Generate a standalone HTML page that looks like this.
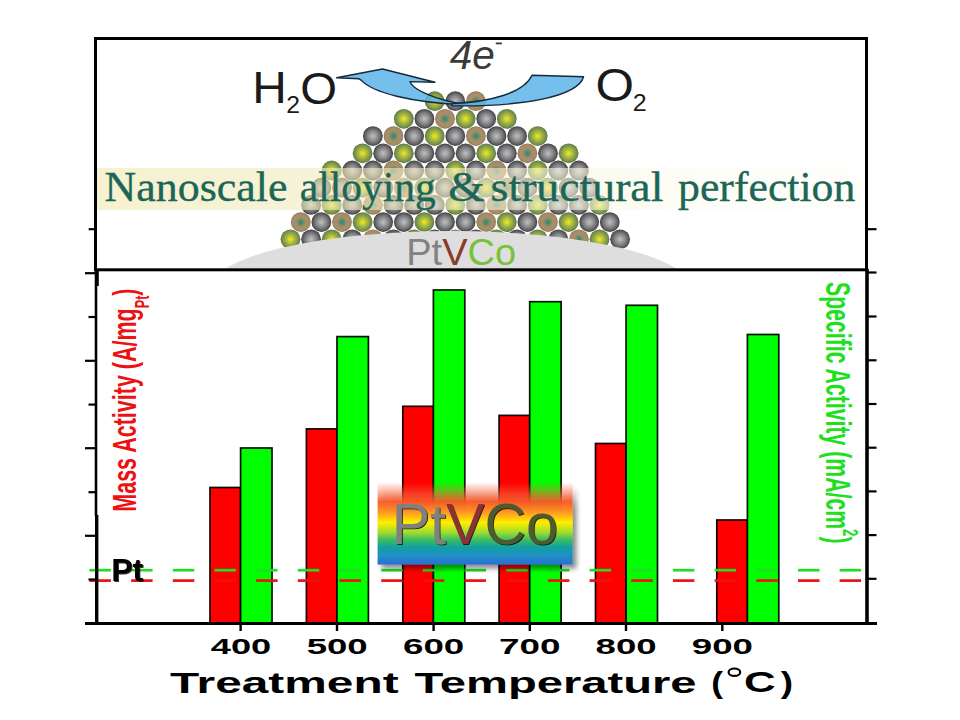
<!DOCTYPE html>
<html><head><meta charset="utf-8"><style>
html,body{margin:0;padding:0;background:#fff;}
svg{display:block;}
</style></head><body>
<svg width="960" height="720" viewBox="0 0 960 720" font-family="Liberation Sans, sans-serif">
<defs>
<radialGradient id="sP" cx="50%" cy="50%" r="50%">
 <stop offset="0" stop-color="#c0c0c4"/><stop offset="0.3" stop-color="#a0a0a2"/><stop offset="0.6" stop-color="#7e7e80"/><stop offset="0.84" stop-color="#5c5c5e"/><stop offset="1" stop-color="#3e3e40"/>
</radialGradient>
<radialGradient id="sG" cx="50%" cy="50%" r="50%">
 <stop offset="0" stop-color="#eeee10"/><stop offset="0.15" stop-color="#dcdc22"/><stop offset="0.4" stop-color="#b0bc40"/><stop offset="0.65" stop-color="#8ca24a"/><stop offset="0.85" stop-color="#728e48"/><stop offset="1" stop-color="#5c7644"/>
</radialGradient>
<radialGradient id="sT" cx="50%" cy="50%" r="50%">
 <stop offset="0" stop-color="#2a8a72"/><stop offset="0.15" stop-color="#4a8a72"/><stop offset="0.38" stop-color="#8c8c68"/><stop offset="0.6" stop-color="#a89068"/><stop offset="0.85" stop-color="#a48a66"/><stop offset="1" stop-color="#8c7456"/>
</radialGradient>
<linearGradient id="band" x1="0" y1="0" x2="1" y2="0">
 <stop offset="0" stop-color="#f1e9b6" stop-opacity="0.64"/><stop offset="0.35" stop-color="#f2ebc0" stop-opacity="0.6"/><stop offset="0.6" stop-color="#f8f5dc" stop-opacity="0.6"/><stop offset="0.75" stop-color="#fcfbef" stop-opacity="0.6"/><stop offset="1" stop-color="#fdfdf7" stop-opacity="0.5"/>
</linearGradient>
<linearGradient id="rainbow" x1="0" y1="0" x2="0" y2="1">
 <stop offset="0" stop-color="#ff5a3c" stop-opacity="0"/>
 <stop offset="0.12" stop-color="#ff6a40" stop-opacity="0.45"/>
 <stop offset="0.24" stop-color="#f85a28" stop-opacity="0.95"/>
 <stop offset="0.37" stop-color="#ff9a20"/>
 <stop offset="0.49" stop-color="#ffee00"/>
 <stop offset="0.61" stop-color="#a0dc30"/>
 <stop offset="0.70" stop-color="#3cbc60"/>
 <stop offset="0.79" stop-color="#10a0a0"/>
 <stop offset="0.89" stop-color="#2090c4"/>
 <stop offset="1" stop-color="#2a6ed4"/>
</linearGradient>
<filter id="shadow" x="-10%" y="-10%" width="130%" height="140%">
 <feGaussianBlur in="SourceAlpha" stdDeviation="2.5"/>
 <feOffset dx="4" dy="4" result="b"/>
 <feComponentTransfer><feFuncA type="linear" slope="0.45"/></feComponentTransfer>
 <feMerge><feMergeNode/><feMergeNode in="SourceGraphic"/></feMerge>
</filter>
<filter id="tshadow" x="-10%" y="-10%" width="130%" height="130%">
 <feOffset in="SourceAlpha" dx="1.2" dy="1.2" result="o"/>
 <feGaussianBlur in="o" stdDeviation="0.6" result="b"/>
 <feComponentTransfer in="b"><feFuncA type="linear" slope="0.8"/></feComponentTransfer>
 <feMerge><feMergeNode/><feMergeNode in="SourceGraphic"/></feMerge>
</filter>
<clipPath id="upper"><rect x="97" y="40" width="768" height="228.5"/></clipPath>
</defs>

<!-- upper panel content -->
<g clip-path="url(#upper)">
<circle cx="434.7" cy="101.2" r="9.9" fill="url(#sG)"/>
<circle cx="455.3" cy="101.2" r="9.9" fill="url(#sP)"/>
<circle cx="475.9" cy="101.2" r="9.9" fill="url(#sT)"/>
<circle cx="403.8" cy="118.8" r="9.9" fill="url(#sG)"/>
<circle cx="424.4" cy="118.8" r="9.9" fill="url(#sP)"/>
<circle cx="445.0" cy="118.8" r="9.9" fill="url(#sT)"/>
<circle cx="465.6" cy="118.8" r="9.9" fill="url(#sG)"/>
<circle cx="486.2" cy="118.8" r="9.9" fill="url(#sP)"/>
<circle cx="506.8" cy="118.8" r="9.9" fill="url(#sG)"/>
<circle cx="372.9" cy="136.1" r="9.9" fill="url(#sP)"/>
<circle cx="393.5" cy="136.1" r="9.9" fill="url(#sT)"/>
<circle cx="414.1" cy="136.1" r="9.9" fill="url(#sP)"/>
<circle cx="434.7" cy="136.1" r="9.9" fill="url(#sG)"/>
<circle cx="455.3" cy="136.1" r="9.9" fill="url(#sP)"/>
<circle cx="475.9" cy="136.1" r="9.9" fill="url(#sT)"/>
<circle cx="496.5" cy="136.1" r="9.9" fill="url(#sP)"/>
<circle cx="517.1" cy="136.1" r="9.9" fill="url(#sP)"/>
<circle cx="537.7" cy="136.1" r="9.9" fill="url(#sG)"/>
<circle cx="362.6" cy="153.3" r="9.9" fill="url(#sG)"/>
<circle cx="383.2" cy="153.3" r="9.9" fill="url(#sP)"/>
<circle cx="403.8" cy="153.3" r="9.9" fill="url(#sG)"/>
<circle cx="424.4" cy="153.3" r="9.9" fill="url(#sP)"/>
<circle cx="445.0" cy="153.3" r="9.9" fill="url(#sP)"/>
<circle cx="465.6" cy="153.3" r="9.9" fill="url(#sP)"/>
<circle cx="486.2" cy="153.3" r="9.9" fill="url(#sG)"/>
<circle cx="506.8" cy="153.3" r="9.9" fill="url(#sP)"/>
<circle cx="527.4" cy="153.3" r="9.9" fill="url(#sT)"/>
<circle cx="548.0" cy="153.3" r="9.9" fill="url(#sP)"/>
<circle cx="568.6" cy="153.3" r="9.9" fill="url(#sG)"/>
<circle cx="331.7" cy="170.5" r="9.9" fill="url(#sG)"/>
<circle cx="352.3" cy="170.5" r="9.9" fill="url(#sP)"/>
<circle cx="372.9" cy="170.5" r="9.9" fill="url(#sP)"/>
<circle cx="393.5" cy="170.5" r="9.9" fill="url(#sT)"/>
<circle cx="414.1" cy="170.5" r="9.9" fill="url(#sP)"/>
<circle cx="434.7" cy="170.5" r="9.9" fill="url(#sP)"/>
<circle cx="455.3" cy="170.5" r="9.9" fill="url(#sG)"/>
<circle cx="475.9" cy="170.5" r="9.9" fill="url(#sP)"/>
<circle cx="496.5" cy="170.5" r="9.9" fill="url(#sT)"/>
<circle cx="517.1" cy="170.5" r="9.9" fill="url(#sP)"/>
<circle cx="537.7" cy="170.5" r="9.9" fill="url(#sG)"/>
<circle cx="558.3" cy="170.5" r="9.9" fill="url(#sP)"/>
<circle cx="578.9" cy="170.5" r="9.9" fill="url(#sP)"/>
<circle cx="321.4" cy="187.7" r="9.9" fill="url(#sP)"/>
<circle cx="342.0" cy="187.7" r="9.9" fill="url(#sP)"/>
<circle cx="362.6" cy="187.7" r="9.9" fill="url(#sG)"/>
<circle cx="383.2" cy="187.7" r="9.9" fill="url(#sP)"/>
<circle cx="403.8" cy="187.7" r="9.9" fill="url(#sT)"/>
<circle cx="424.4" cy="187.7" r="9.9" fill="url(#sG)"/>
<circle cx="445.0" cy="187.7" r="9.9" fill="url(#sP)"/>
<circle cx="465.6" cy="187.7" r="9.9" fill="url(#sP)"/>
<circle cx="486.2" cy="187.7" r="9.9" fill="url(#sG)"/>
<circle cx="506.8" cy="187.7" r="9.9" fill="url(#sT)"/>
<circle cx="527.4" cy="187.7" r="9.9" fill="url(#sP)"/>
<circle cx="548.0" cy="187.7" r="9.9" fill="url(#sG)"/>
<circle cx="568.6" cy="187.7" r="9.9" fill="url(#sP)"/>
<circle cx="589.2" cy="187.7" r="9.9" fill="url(#sP)"/>
<circle cx="311.1" cy="204.9" r="9.9" fill="url(#sP)"/>
<circle cx="331.7" cy="204.9" r="9.9" fill="url(#sG)"/>
<circle cx="352.3" cy="204.9" r="9.9" fill="url(#sP)"/>
<circle cx="372.9" cy="204.9" r="9.9" fill="url(#sT)"/>
<circle cx="393.5" cy="204.9" r="9.9" fill="url(#sP)"/>
<circle cx="414.1" cy="204.9" r="9.9" fill="url(#sP)"/>
<circle cx="434.7" cy="204.9" r="9.9" fill="url(#sP)"/>
<circle cx="455.3" cy="204.9" r="9.9" fill="url(#sG)"/>
<circle cx="475.9" cy="204.9" r="9.9" fill="url(#sP)"/>
<circle cx="496.5" cy="204.9" r="9.9" fill="url(#sT)"/>
<circle cx="517.1" cy="204.9" r="9.9" fill="url(#sP)"/>
<circle cx="537.7" cy="204.9" r="9.9" fill="url(#sG)"/>
<circle cx="558.3" cy="204.9" r="9.9" fill="url(#sP)"/>
<circle cx="578.9" cy="204.9" r="9.9" fill="url(#sP)"/>
<circle cx="599.5" cy="204.9" r="9.9" fill="url(#sG)"/>
<circle cx="300.8" cy="222.1" r="9.9" fill="url(#sT)"/>
<circle cx="321.4" cy="222.1" r="9.9" fill="url(#sP)"/>
<circle cx="342.0" cy="222.1" r="9.9" fill="url(#sT)"/>
<circle cx="362.6" cy="222.1" r="9.9" fill="url(#sG)"/>
<circle cx="383.2" cy="222.1" r="9.9" fill="url(#sP)"/>
<circle cx="403.8" cy="222.1" r="9.9" fill="url(#sP)"/>
<circle cx="424.4" cy="222.1" r="9.9" fill="url(#sG)"/>
<circle cx="445.0" cy="222.1" r="9.9" fill="url(#sP)"/>
<circle cx="465.6" cy="222.1" r="9.9" fill="url(#sP)"/>
<circle cx="486.2" cy="222.1" r="9.9" fill="url(#sT)"/>
<circle cx="506.8" cy="222.1" r="9.9" fill="url(#sG)"/>
<circle cx="527.4" cy="222.1" r="9.9" fill="url(#sP)"/>
<circle cx="548.0" cy="222.1" r="9.9" fill="url(#sT)"/>
<circle cx="568.6" cy="222.1" r="9.9" fill="url(#sG)"/>
<circle cx="589.2" cy="222.1" r="9.9" fill="url(#sP)"/>
<circle cx="609.8" cy="222.1" r="9.9" fill="url(#sP)"/>
<circle cx="290.5" cy="239.3" r="9.9" fill="url(#sG)"/>
<circle cx="311.1" cy="239.3" r="9.9" fill="url(#sP)"/>
<circle cx="331.7" cy="239.3" r="9.9" fill="url(#sG)"/>
<circle cx="352.3" cy="239.3" r="9.9" fill="url(#sP)"/>
<circle cx="372.9" cy="239.3" r="9.9" fill="url(#sT)"/>
<circle cx="393.5" cy="239.3" r="9.9" fill="url(#sP)"/>
<circle cx="414.1" cy="239.3" r="9.9" fill="url(#sG)"/>
<circle cx="434.7" cy="239.3" r="9.9" fill="url(#sP)"/>
<circle cx="455.3" cy="239.3" r="9.9" fill="url(#sT)"/>
<circle cx="475.9" cy="239.3" r="9.9" fill="url(#sP)"/>
<circle cx="496.5" cy="239.3" r="9.9" fill="url(#sG)"/>
<circle cx="517.1" cy="239.3" r="9.9" fill="url(#sP)"/>
<circle cx="537.7" cy="239.3" r="9.9" fill="url(#sG)"/>
<circle cx="558.3" cy="239.3" r="9.9" fill="url(#sP)"/>
<circle cx="578.9" cy="239.3" r="9.9" fill="url(#sT)"/>
<circle cx="599.5" cy="239.3" r="9.9" fill="url(#sG)"/>
<circle cx="620.1" cy="239.3" r="9.9" fill="url(#sP)"/>
<rect x="97" y="168" width="764" height="42" fill="url(#band)"/>
<text x="104.53" y="201.2" font-family="Liberation Serif, serif" font-size="43" textLength="182.99" lengthAdjust="spacingAndGlyphs" fill="#1b6656" stroke="#1b6656" stroke-width="0.35">Nanoscale</text>
<text x="299.79" y="201.2" font-family="Liberation Serif, serif" font-size="43" textLength="136.0" lengthAdjust="spacingAndGlyphs" fill="#1b6656" stroke="#1b6656" stroke-width="0.35">alloying</text>
<text x="448.22" y="201.2" font-family="Liberation Serif, serif" font-size="43" textLength="36.38" lengthAdjust="spacingAndGlyphs" fill="#1b6656" stroke="#1b6656" stroke-width="0.35">&amp;</text>
<text x="490.62" y="201.2" font-family="Liberation Serif, serif" font-size="43" textLength="172.79" lengthAdjust="spacingAndGlyphs" fill="#1b6656" stroke="#1b6656" stroke-width="0.35">structural</text>
<text x="678.05" y="201.2" font-family="Liberation Serif, serif" font-size="43" textLength="177.32" lengthAdjust="spacingAndGlyphs" fill="#1b6656" stroke="#1b6656" stroke-width="0.35">perfection</text>
<ellipse cx="451" cy="290" rx="242" ry="59" fill="#dedede"/>
<text x="406.29" y="265.1" font-family="Liberation Sans, sans-serif" font-size="36" textLength="109.71" lengthAdjust="spacingAndGlyphs" fill="#828282">Pt<tspan fill="#8c3a2c">V</tspan><tspan fill="#78c23a">Co</tspan></text>
</g>

<!-- arrows -->
<path d="M336.6,77.8 L382.5,69 L435,82.2 L409.9,81.6 C412,88 430,99 466,104.6 C410,103 372,92 361.4,80.4 L359,78.8 Z" fill="#5cb4e8" fill-opacity="0.85" stroke="#15283c" stroke-width="1.4" stroke-linejoin="round"/>
<path d="M452,103.6 C490,102 524,93 532,75.2 L583.6,76.7 C578,97 520,107 452,105.8 Z" fill="#5cb4e8" fill-opacity="0.85" stroke="#15283c" stroke-width="1.4" stroke-linejoin="round"/>

<!-- formula labels -->
<text x="252.18" y="103.25" font-family="Liberation Sans, sans-serif" font-size="45.2" textLength="34.52" lengthAdjust="spacingAndGlyphs" fill="#1a1a1a">H</text>
<text x="286.26" y="112.6" font-family="Liberation Sans, sans-serif" font-size="23" textLength="13.73" lengthAdjust="spacingAndGlyphs" fill="#1a1a1a">2</text>
<text x="300.26" y="103.6" font-family="Liberation Sans, sans-serif" font-size="45.2" textLength="36.81" lengthAdjust="spacingAndGlyphs" fill="#1a1a1a">O</text>
<text x="449.74" y="68.7" font-family="Liberation Sans, sans-serif" font-size="40" font-style="italic" textLength="45.06" lengthAdjust="spacingAndGlyphs" fill="#3a3a3a">4e</text>
<rect x="495.8" y="42.5" width="6" height="1.8" fill="#3a3a3a"/>
<text x="595.55" y="101.3" font-family="Liberation Sans, sans-serif" font-size="45.5" textLength="38.51" lengthAdjust="spacingAndGlyphs" fill="#1a1a1a">O</text>
<text x="632.74" y="110.8" font-family="Liberation Sans, sans-serif" font-size="23" textLength="13.92" lengthAdjust="spacingAndGlyphs" fill="#1a1a1a">2</text>

<!-- frame upper -->
<rect x="95.5" y="38.5" width="771" height="231.3" fill="none" stroke="#000" stroke-width="3"/>

<!-- lower chart bars -->
<rect x="210.0" y="487.5" width="30.6" height="136.0" fill="#ff0000" stroke="#140000" stroke-width="1.7"/>
<rect x="240.6" y="448.0" width="31.400000000000002" height="175.5" fill="#00ff00" stroke="#001400" stroke-width="1.7"/>
<rect x="306.4" y="428.9" width="30.6" height="194.60000000000002" fill="#ff0000" stroke="#140000" stroke-width="1.7"/>
<rect x="337.0" y="336.6" width="31.400000000000002" height="286.9" fill="#00ff00" stroke="#001400" stroke-width="1.7"/>
<rect x="402.8" y="406.3" width="30.6" height="217.2" fill="#ff0000" stroke="#140000" stroke-width="1.7"/>
<rect x="433.40000000000003" y="290.0" width="31.400000000000002" height="333.5" fill="#00ff00" stroke="#001400" stroke-width="1.7"/>
<rect x="499.1" y="415.4" width="30.6" height="208.10000000000002" fill="#ff0000" stroke="#140000" stroke-width="1.7"/>
<rect x="529.7" y="301.7" width="31.400000000000002" height="321.8" fill="#00ff00" stroke="#001400" stroke-width="1.7"/>
<rect x="595.5" y="443.5" width="30.6" height="180.0" fill="#ff0000" stroke="#140000" stroke-width="1.7"/>
<rect x="626.1" y="305.3" width="31.400000000000002" height="318.2" fill="#00ff00" stroke="#001400" stroke-width="1.7"/>
<rect x="716.8" y="520.0" width="30.6" height="103.5" fill="#ff0000" stroke="#140000" stroke-width="1.7"/>
<rect x="747.4" y="334.5" width="31.400000000000002" height="289.0" fill="#00ff00" stroke="#001400" stroke-width="1.7"/>

<!-- dashed lines -->
<line x1="89.4" y1="570.2" x2="110.9" y2="570.2" stroke="#22dd22" stroke-width="2.7"/>
<line x1="131.1" y1="570.2" x2="152.6" y2="570.2" stroke="#22dd22" stroke-width="2.7"/>
<line x1="172.8" y1="570.2" x2="194.3" y2="570.2" stroke="#22dd22" stroke-width="2.7"/>
<line x1="214.4" y1="570.2" x2="235.9" y2="570.2" stroke="#22dd22" stroke-width="2.7"/>
<line x1="256.1" y1="570.2" x2="277.6" y2="570.2" stroke="#22dd22" stroke-width="2.7"/>
<line x1="297.8" y1="570.2" x2="319.3" y2="570.2" stroke="#22dd22" stroke-width="2.7"/>
<line x1="339.5" y1="570.2" x2="361.0" y2="570.2" stroke="#22dd22" stroke-width="2.7"/>
<line x1="381.2" y1="570.2" x2="402.7" y2="570.2" stroke="#22dd22" stroke-width="2.7"/>
<line x1="422.8" y1="570.2" x2="444.3" y2="570.2" stroke="#22dd22" stroke-width="2.7"/>
<line x1="464.5" y1="570.2" x2="486.0" y2="570.2" stroke="#22dd22" stroke-width="2.7"/>
<line x1="506.2" y1="570.2" x2="527.7" y2="570.2" stroke="#22dd22" stroke-width="2.7"/>
<line x1="547.9" y1="570.2" x2="569.4" y2="570.2" stroke="#22dd22" stroke-width="2.7"/>
<line x1="589.6" y1="570.2" x2="611.1" y2="570.2" stroke="#22dd22" stroke-width="2.7"/>
<line x1="631.2" y1="570.2" x2="652.7" y2="570.2" stroke="#22dd22" stroke-width="2.7"/>
<line x1="672.9" y1="570.2" x2="694.4" y2="570.2" stroke="#22dd22" stroke-width="2.7"/>
<line x1="714.6" y1="570.2" x2="736.1" y2="570.2" stroke="#22dd22" stroke-width="2.7"/>
<line x1="756.3" y1="570.2" x2="777.8" y2="570.2" stroke="#22dd22" stroke-width="2.7"/>
<line x1="798.0" y1="570.2" x2="819.5" y2="570.2" stroke="#22dd22" stroke-width="2.7"/>
<line x1="839.6" y1="570.2" x2="861.1" y2="570.2" stroke="#22dd22" stroke-width="2.7"/>
<line x1="89.4" y1="580.6" x2="110.9" y2="580.6" stroke="#ee1111" stroke-width="2.7"/>
<line x1="131.1" y1="580.6" x2="152.6" y2="580.6" stroke="#ee1111" stroke-width="2.7"/>
<line x1="172.8" y1="580.6" x2="194.3" y2="580.6" stroke="#ee1111" stroke-width="2.7"/>
<line x1="214.4" y1="580.6" x2="235.9" y2="580.6" stroke="#ee1111" stroke-width="2.7"/>
<line x1="256.1" y1="580.6" x2="277.6" y2="580.6" stroke="#ee1111" stroke-width="2.7"/>
<line x1="297.8" y1="580.6" x2="319.3" y2="580.6" stroke="#ee1111" stroke-width="2.7"/>
<line x1="339.5" y1="580.6" x2="361.0" y2="580.6" stroke="#ee1111" stroke-width="2.7"/>
<line x1="381.2" y1="580.6" x2="402.7" y2="580.6" stroke="#ee1111" stroke-width="2.7"/>
<line x1="422.8" y1="580.6" x2="444.3" y2="580.6" stroke="#ee1111" stroke-width="2.7"/>
<line x1="464.5" y1="580.6" x2="486.0" y2="580.6" stroke="#ee1111" stroke-width="2.7"/>
<line x1="506.2" y1="580.6" x2="527.7" y2="580.6" stroke="#ee1111" stroke-width="2.7"/>
<line x1="547.9" y1="580.6" x2="569.4" y2="580.6" stroke="#ee1111" stroke-width="2.7"/>
<line x1="589.6" y1="580.6" x2="611.1" y2="580.6" stroke="#ee1111" stroke-width="2.7"/>
<line x1="631.2" y1="580.6" x2="652.7" y2="580.6" stroke="#ee1111" stroke-width="2.7"/>
<line x1="672.9" y1="580.6" x2="694.4" y2="580.6" stroke="#ee1111" stroke-width="2.7"/>
<line x1="714.6" y1="580.6" x2="736.1" y2="580.6" stroke="#ee1111" stroke-width="2.7"/>
<line x1="756.3" y1="580.6" x2="777.8" y2="580.6" stroke="#ee1111" stroke-width="2.7"/>
<line x1="798.0" y1="580.6" x2="819.5" y2="580.6" stroke="#ee1111" stroke-width="2.7"/>
<line x1="839.6" y1="580.6" x2="861.1" y2="580.6" stroke="#ee1111" stroke-width="2.7"/>

<!-- axes -->
<line x1="96" y1="269" x2="96" y2="516" stroke="#000" stroke-width="2.6"/>
<line x1="96.7" y1="515" x2="96.7" y2="625" stroke="#000" stroke-width="3.4"/>
<line x1="97" y1="270" x2="97" y2="286" stroke="#000" stroke-width="3.6"/>
<line x1="85" y1="623.6" x2="877" y2="623.6" stroke="#000" stroke-width="3"/>
<line x1="867" y1="269" x2="867" y2="625" stroke="#000" stroke-width="3.6"/>
<line x1="85" y1="273.2" x2="96" y2="273.2" stroke="#000" stroke-width="2.2"/>
<line x1="88.5" y1="317.0" x2="96" y2="317.0" stroke="#000" stroke-width="2.2"/>
<line x1="85" y1="360.8" x2="96" y2="360.8" stroke="#000" stroke-width="2.2"/>
<line x1="88.5" y1="404.6" x2="96" y2="404.6" stroke="#000" stroke-width="2.2"/>
<line x1="85" y1="448.2" x2="96" y2="448.2" stroke="#000" stroke-width="2.2"/>
<line x1="88.5" y1="492.2" x2="96" y2="492.2" stroke="#000" stroke-width="2.2"/>
<line x1="85" y1="535.8" x2="96" y2="535.8" stroke="#000" stroke-width="2.2"/>
<line x1="88.5" y1="579.5" x2="96" y2="579.5" stroke="#000" stroke-width="2.2"/>
<line x1="867" y1="229.2" x2="876.5" y2="229.2" stroke="#000" stroke-width="2.2"/>
<line x1="867" y1="272.5" x2="876.5" y2="272.5" stroke="#000" stroke-width="2.2"/>
<line x1="867" y1="316.5" x2="876.5" y2="316.5" stroke="#000" stroke-width="2.2"/>
<line x1="867" y1="360.3" x2="876.5" y2="360.3" stroke="#000" stroke-width="2.2"/>
<line x1="867" y1="404.0" x2="876.5" y2="404.0" stroke="#000" stroke-width="2.2"/>
<line x1="867" y1="447.7" x2="876.5" y2="447.7" stroke="#000" stroke-width="2.2"/>
<line x1="867" y1="491.4" x2="876.5" y2="491.4" stroke="#000" stroke-width="2.2"/>
<line x1="867" y1="535.1" x2="876.5" y2="535.1" stroke="#000" stroke-width="2.2"/>
<line x1="867" y1="578.8" x2="876.5" y2="578.8" stroke="#000" stroke-width="2.2"/>
<line x1="88.7" y1="229.2" x2="96" y2="229.2" stroke="#000" stroke-width="2.2"/>
<line x1="240.6" y1="623" x2="240.6" y2="631" stroke="#000" stroke-width="2.4"/>
<line x1="337.0" y1="623" x2="337.0" y2="631" stroke="#000" stroke-width="2.4"/>
<line x1="433.6" y1="623" x2="433.6" y2="631" stroke="#000" stroke-width="2.4"/>
<line x1="529.8" y1="623" x2="529.8" y2="631" stroke="#000" stroke-width="2.4"/>
<line x1="626.0" y1="623" x2="626.0" y2="631" stroke="#000" stroke-width="2.4"/>
<line x1="722.3" y1="623" x2="722.3" y2="631" stroke="#000" stroke-width="2.4"/>

<!-- Pt label -->
<text x="111.26" y="580.9" font-family="Liberation Sans, sans-serif" font-size="31" font-weight="bold" textLength="31.93" lengthAdjust="spacingAndGlyphs" fill="#000" filter="url(#tshadow)">Pt</text>

<!-- rainbow box -->
<g filter="url(#shadow)">
<rect x="377.6" y="482" width="195" height="82.6" fill="url(#rainbow)"/>
</g>
<text x="391.68" y="543.8" font-family="Liberation Sans, sans-serif" font-size="57.5" textLength="166.34" lengthAdjust="spacingAndGlyphs" fill="#808080" filter="url(#tshadow)">Pt<tspan fill="#8a3038">V</tspan><tspan fill="#4e5a30">Co</tspan></text>

<!-- y labels -->
<text transform="translate(136,511.7) rotate(-90)" font-size="34" font-weight="bold" fill="#ee1111" textLength="223.2" lengthAdjust="spacingAndGlyphs">Mass Activity (A/mg<tspan font-size="20" dy="12.5">Pt</tspan><tspan dy="-12.5">)</tspan></text>
<text transform="translate(825.5,282) rotate(90)" font-size="35.5" font-weight="bold" fill="#1ee01e" textLength="261.5" lengthAdjust="spacingAndGlyphs">Specific Activity (mA/cm<tspan font-size="22" dy="-17">2</tspan><tspan dy="17">)</tspan></text>

<!-- x labels -->
<text x="210.85" y="654.4" font-family="Liberation Sans, sans-serif" font-size="22.4" font-weight="bold" textLength="60.43" lengthAdjust="spacingAndGlyphs" fill="#000">400</text>
<text x="306.67" y="654.4" font-family="Liberation Sans, sans-serif" font-size="22.4" font-weight="bold" textLength="61.03" lengthAdjust="spacingAndGlyphs" fill="#000">500</text>
<text x="403.06" y="654.4" font-family="Liberation Sans, sans-serif" font-size="22.4" font-weight="bold" textLength="61.25" lengthAdjust="spacingAndGlyphs" fill="#000">600</text>
<text x="499.02" y="654.4" font-family="Liberation Sans, sans-serif" font-size="22.4" font-weight="bold" textLength="61.5" lengthAdjust="spacingAndGlyphs" fill="#000">700</text>
<text x="595.64" y="654.4" font-family="Liberation Sans, sans-serif" font-size="22.4" font-weight="bold" textLength="61.06" lengthAdjust="spacingAndGlyphs" fill="#000">800</text>
<text x="691.83" y="654.4" font-family="Liberation Sans, sans-serif" font-size="22.4" font-weight="bold" textLength="61.17" lengthAdjust="spacingAndGlyphs" fill="#000">900</text>
<text x="169.97" y="693" font-family="Liberation Sans, sans-serif" font-size="29.3" font-weight="bold" textLength="228.61" lengthAdjust="spacingAndGlyphs" fill="#000">Treatment</text>
<text x="414.48" y="693" font-family="Liberation Sans, sans-serif" font-size="29.3" font-weight="bold" textLength="282.11" lengthAdjust="spacingAndGlyphs" fill="#000">Temperature</text>
<text x="711.24" y="693" font-family="Liberation Sans, sans-serif" font-size="29.3" font-weight="bold" textLength="11.8" lengthAdjust="spacingAndGlyphs" fill="#000">(</text>
<ellipse cx="734.4" cy="672.2" rx="5.8" ry="3.7" fill="none" stroke="#000" stroke-width="2.2"/>
<text x="744.0" y="692.3" font-family="Liberation Sans, sans-serif" font-size="29.3" font-weight="bold" textLength="31.7" lengthAdjust="spacingAndGlyphs" fill="#000">C</text>
<text x="780.66" y="693" font-family="Liberation Sans, sans-serif" font-size="29.3" font-weight="bold" textLength="12.27" lengthAdjust="spacingAndGlyphs" fill="#000">)</text>
</svg>
</body></html>
